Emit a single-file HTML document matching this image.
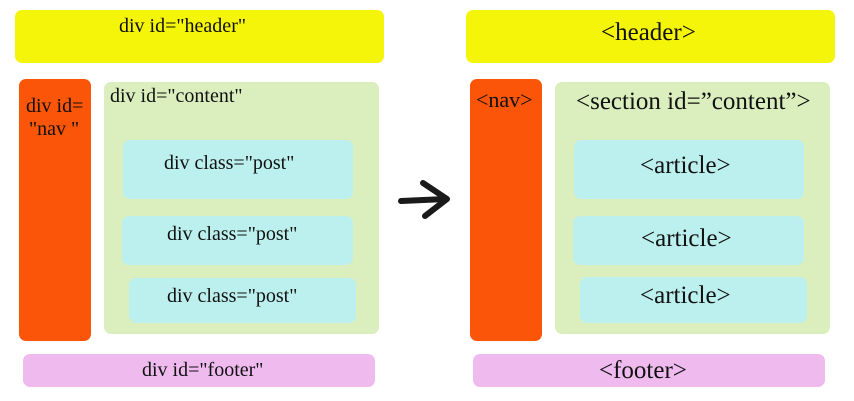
<!DOCTYPE html>
<html><head><style>
body{margin:0;width:854px;height:401px;background:#fff;position:relative;overflow:hidden;font-family:"Liberation Serif",serif;color:#111}
.b{position:absolute;border-radius:7px}
.t{position:absolute;white-space:nowrap;line-height:1}
.y{background:#f5f50a}.o{background:#fa5508}.g{background:#daefbd}.c{background:#bcf0ee}.p{background:#efbbef}
</style></head><body>
<div class="b y" style="left:15px;top:10px;width:369px;height:53px"></div>
<div class="t" style="left:119px;top:16px;font-size:20px">div id="header"</div>
<div class="b o" style="left:19px;top:79px;width:72px;height:262px"></div>
<div class="t" style="left:26px;top:96px;font-size:20px">div id=</div>
<div class="t" style="left:29px;top:119px;font-size:20px">"nav "</div>
<div class="b g" style="left:104px;top:82px;width:275px;height:252px"></div>
<div class="t" style="left:110px;top:86px;font-size:20px">div id="content"</div>
<div class="b c" style="left:123px;top:140px;width:230px;height:59px"></div>
<div class="t" style="left:164px;top:153px;font-size:20px">div class="post"</div>
<div class="b c" style="left:122px;top:216px;width:231px;height:49px"></div>
<div class="t" style="left:167px;top:224px;font-size:20px">div class="post"</div>
<div class="b c" style="left:129px;top:278px;width:227px;height:45px"></div>
<div class="t" style="left:167px;top:286px;font-size:20px">div class="post"</div>
<div class="b p" style="left:23px;top:354px;width:352px;height:33px"></div>
<div class="t" style="left:142px;top:360px;font-size:20px">div id="footer"</div>

<svg style="position:absolute;left:0;top:0" width="854" height="401"><g fill="none" stroke="#1a1a1a" stroke-width="6" stroke-linecap="round" stroke-linejoin="round"><path d="M401 201 L446 199"/><path d="M423 183 L447 199 L425 216"/></g></svg>

<div class="b y" style="left:466px;top:10px;width:369px;height:53px"></div>
<div class="t" style="left:601px;top:20px;font-size:25px">&lt;header&gt;</div>
<div class="b o" style="left:470px;top:79px;width:72px;height:262px"></div>
<div class="t" style="left:476px;top:89px;font-size:22px">&lt;nav&gt;</div>
<div class="b g" style="left:555px;top:82px;width:275px;height:252px"></div>
<div class="t" style="left:576px;top:89px;font-size:25px">&lt;section id=”content”&gt;</div>
<div class="b c" style="left:574px;top:140px;width:230px;height:59px"></div>
<div class="t" style="left:640px;top:153px;font-size:25px">&lt;article&gt;</div>
<div class="b c" style="left:573px;top:216px;width:231px;height:49px"></div>
<div class="t" style="left:641px;top:226px;font-size:25px">&lt;article&gt;</div>
<div class="b c" style="left:580px;top:277px;width:227px;height:46px"></div>
<div class="t" style="left:640px;top:283px;font-size:25px">&lt;article&gt;</div>
<div class="b p" style="left:473px;top:354px;width:352px;height:33px"></div>
<div class="t" style="left:599px;top:358px;font-size:25px">&lt;footer&gt;</div>
</body></html>
